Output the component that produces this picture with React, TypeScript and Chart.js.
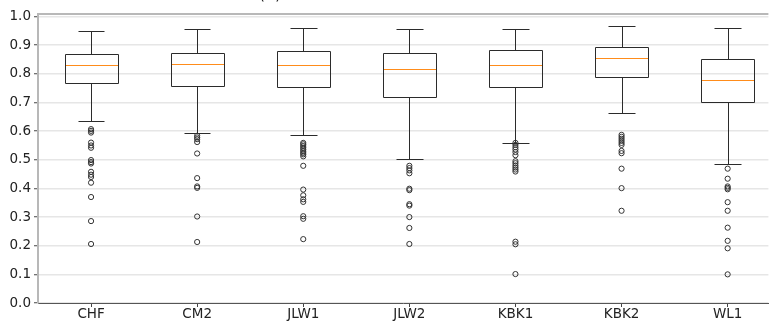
import { useEffect, useRef } from 'react';
import { Chart, registerables } from 'chart.js';

Chart.register(...registerables);

const categories = ['CHF', 'CM2', 'JLW1', 'JLW2', 'KBK1', 'KBK2', 'WL1'];
const whiskerHigh = [0.948, 0.956, 0.960, 0.957, 0.957, 0.967, 0.960];
const q3 = [0.870, 0.873, 0.880, 0.872, 0.883, 0.894, 0.852];
const medians = [0.831, 0.834, 0.830, 0.816, 0.832, 0.855, 0.779];
const q1 = [0.769, 0.758, 0.754, 0.719, 0.753, 0.789, 0.703];
const whiskerLow = [0.635, 0.592, 0.585, 0.502, 0.557, 0.662, 0.486];

const outliersCHF = [0.607, 0.601, 0.595, 0.560, 0.550, 0.542, 0.499, 0.492, 0.487, 0.458, 0.448, 0.440, 0.420, 0.370, 0.286, 0.206];
const outliersCM2 = [0.584, 0.578, 0.572, 0.562, 0.522, 0.436, 0.407, 0.402, 0.302, 0.213];
const outliersJLW1 = [0.559, 0.554, 0.548, 0.542, 0.536, 0.530, 0.524, 0.519, 0.512, 0.479, 0.396, 0.376, 0.362, 0.353, 0.303, 0.294, 0.223];
const outliersJLW2 = [0.479, 0.471, 0.463, 0.453, 0.399, 0.394, 0.345, 0.340, 0.300, 0.262, 0.206];
const outliersKBK1 = [0.559, 0.552, 0.544, 0.536, 0.527, 0.516, 0.495, 0.488, 0.480, 0.473, 0.466, 0.459, 0.214, 0.205, 0.101];
const outliersKBK2 = [0.587, 0.580, 0.573, 0.566, 0.559, 0.552, 0.531, 0.523, 0.469, 0.401, 0.322];
const outliersWL1 = [0.469, 0.434, 0.407, 0.402, 0.397, 0.352, 0.322, 0.263, 0.217, 0.191, 0.100];
const outlierLists = [outliersCHF, outliersCM2, outliersJLW1, outliersJLW2, outliersKBK1, outliersKBK2, outliersWL1];

const yTicks = [0, 0.1, 0.2, 0.3, 0.4, 0.5, 0.6, 0.7, 0.8, 0.9, 1.0];
const titleText = '(a)';

const FONT = "'DejaVu Sans', sans-serif";

export default function App() {
  const ref = useRef<HTMLCanvasElement>(null);

  useEffect(() => {
    if (!ref.current) return;
    const crisp = (v: number) => Math.round(v) + 0.5;

    const boxPlugin = {
      id: 'boxes',
      beforeDatasetsDraw(chart: any) {
        const { ctx, scales } = chart;
        const x = scales.x, y = scales.y;
        ctx.save();
        ctx.lineWidth = 1;
        categories.forEach((_, i) => {
          const pos = i + 1;
          const xl = crisp(x.getPixelForValue(pos - 0.25));
          const xr = crisp(x.getPixelForValue(pos + 0.25));
          const xc = crisp(x.getPixelForValue(pos));
          const cl = crisp(x.getPixelForValue(pos - 0.125));
          const cr = crisp(x.getPixelForValue(pos + 0.125));
          const yHi = crisp(y.getPixelForValue(whiskerHigh[i]));
          const yQ3 = crisp(y.getPixelForValue(q3[i]));
          const yMed = crisp(y.getPixelForValue(medians[i]));
          const yQ1 = crisp(y.getPixelForValue(q1[i]));
          const yLo = crisp(y.getPixelForValue(whiskerLow[i]));
          ctx.strokeStyle = '#2b2b2b';
          ctx.beginPath();
          ctx.rect(xl, yQ3, xr - xl, yQ1 - yQ3);
          ctx.moveTo(xc, yQ3); ctx.lineTo(xc, yHi);
          ctx.moveTo(xc, yQ1); ctx.lineTo(xc, yLo);
          ctx.moveTo(cl, yHi); ctx.lineTo(cr, yHi);
          ctx.moveTo(cl, yLo); ctx.lineTo(cr, yLo);
          ctx.stroke();
          ctx.strokeStyle = '#ff8c1a';
          ctx.beginPath();
          ctx.moveTo(xl + 0.5, yMed); ctx.lineTo(xr - 0.5, yMed);
          ctx.stroke();
        });
        ctx.restore();
      },
      afterDraw(chart: any) {
        const { ctx, chartArea } = chart;
        ctx.save();
        ctx.strokeStyle = '#b8b8b8';
        ctx.lineWidth = 2;
        ctx.beginPath();
        ctx.moveTo(chartArea.left - 1, chartArea.top);
        ctx.lineTo(chartArea.right, chartArea.top);
        ctx.stroke();
        ctx.fillStyle = '#222222';
        ctx.font = `16px ${FONT}`;
        ctx.textAlign = 'center';
        ctx.textBaseline = 'alphabetic';
        ctx.fillText(titleText, 270, -1.5);
        ctx.restore();
      },
    };

    const scatterData = outlierLists.flatMap((list, i) => list.map((v) => ({ x: i + 1, y: v })));

    const chart = new Chart(ref.current, {
      type: 'scatter',
      data: {
        datasets: [
          {
            label: 'outliers',
            data: scatterData,
            pointRadius: 2.6,
            pointBorderWidth: 1,
            pointBorderColor: '#333333',
            pointBackgroundColor: 'rgba(0,0,0,0)',
            pointHoverRadius: 2.6,
          },
        ],
      },
      options: {
        animation: false,
        responsive: false,
        events: [],
        layout: { padding: { top: 14, left: 0, right: 0, bottom: 0 } },
        plugins: { legend: { display: false }, tooltip: { enabled: false }, title: { display: false } },
        scales: {
          x: {
            type: 'linear',
            min: 0.5,
            max: 7.384,
            afterBuildTicks: (scale: any) => {
              scale.ticks = categories.map((_, i) => ({ value: i + 1 }));
            },
            afterFit: (scale: any) => { scale.height = 19; },
            ticks: {
              autoSkip: false,
              maxRotation: 0,
              padding: -1,
              color: '#222222',
              font: { family: FONT, size: 13.5 },
              callback: (v: any) => categories[Math.round(v) - 1] ?? '',
            },
            grid: { drawOnChartArea: false, drawTicks: true, tickLength: 4, tickColor: '#444444', tickWidth: 1 },
            border: { display: true, color: '#555555', width: 1 },
          },
          y: {
            type: 'linear',
            min: 0,
            max: 1.009,
            afterBuildTicks: (scale: any) => {
              scale.ticks = yTicks.map((v) => ({ value: v }));
            },
            afterFit: (scale: any) => { scale.width = 38; },
            ticks: {
              padding: 3,
              color: '#222222',
              font: { family: FONT, size: 13.5 },
              callback: (v: any) => Number(v).toFixed(1),
            },
            grid: { color: '#e6e6e6', lineWidth: 1.5, tickLength: 4, tickColor: '#444444', tickWidth: 1 },
            border: { display: true, color: '#b8b8b8', width: 2 },
          },
        },
      },
      plugins: [boxPlugin],
    });
    return () => chart.destroy();
  }, []);

  return (
    <div style={{ position: 'absolute', left: 0, top: 0, width: 772, height: 322, background: '#ffffff' }}>
      <canvas ref={ref} width={772} height={322} style={{ display: 'block', width: 772, height: 322 }} />
    </div>
  );
}
